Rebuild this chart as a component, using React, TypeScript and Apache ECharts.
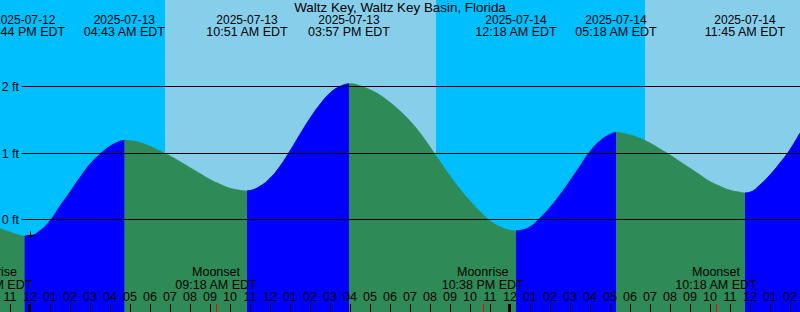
import React, { useEffect, useRef } from 'react';
import * as echarts from 'echarts';

// ---------- data ----------
const TITLE = 'Waltz Key, Waltz Key Basin, Florida';
const TZ = 'EDT';
const BASE_TIME = '2025-07-13 00:00';
const VIEW_START = '2025-07-12 22:30';
const VIEW_END = '2025-07-14 14:30';

// High / low tide events
const extremeTimes = [
  '2025-07-12 23:44',
  '2025-07-13 04:43',
  '2025-07-13 10:51',
  '2025-07-13 15:57',
  '2025-07-14 00:18',
  '2025-07-14 05:18',
  '2025-07-14 11:45',
];
const extremeLevels = [-0.25, 1.19, 0.43, 2.04, -0.17, 1.31, 0.4];

// Tide level (hours since 2025-07-13 00:00, feet)
const sampleHours = [
  -1.5, -1, -0.5, 0, 0.5, 1, 1.5, 2, 2.5, 3, 3.5, 4, 4.5,
  5, 5.5, 6, 6.5, 7, 7.5, 8, 8.5, 9, 9.5, 10, 10.5,
  11, 11.5, 12, 12.5, 13, 13.5, 14, 14.5, 15, 15.5,
  16, 16.5, 17, 17.5, 18, 18.5, 19, 19.5, 20, 20.5, 21, 21.5, 22, 22.5, 23, 23.5, 24,
  24.5, 25, 25.5, 26, 26.5, 27, 27.5, 28, 28.5, 29,
  29.5, 30, 30.5, 31, 31.5, 32, 32.5, 33, 33.5, 34, 34.5, 35, 35.5,
  36, 36.5, 37, 37.5, 38, 38.5,
];
const sampleLevels = [
  -0.14, -0.19, -0.24, -0.245, -0.17, -0.02, 0.2, 0.41, 0.63, 0.83, 0.98, 1.1, 1.175,
  1.185, 1.155, 1.1, 1.03, 0.955, 0.87, 0.78, 0.69, 0.6, 0.53, 0.47, 0.44,
  0.435, 0.5, 0.62, 0.8, 1.03, 1.28, 1.52, 1.73, 1.9, 2.0,
  2.04, 2.01, 1.95, 1.87, 1.76, 1.63, 1.48, 1.3, 1.09, 0.87, 0.655, 0.455, 0.28, 0.12, -0.02, -0.11, -0.16,
  -0.165, -0.11, 0.02, 0.18, 0.37, 0.58, 0.8, 1.02, 1.18, 1.28,
  1.305, 1.27, 1.22, 1.15, 1.06, 0.97, 0.87, 0.77, 0.67, 0.57, 0.5, 0.44, 0.41,
  0.41, 0.52, 0.67, 0.85, 1.05, 1.3,
];

const sunriseTimes = ['2025-07-13 06:45', '2025-07-14 06:45'];
const sunsetTimes = ['2025-07-13 20:18'];

const moonTimes = ['2025-07-12 22:04', '2025-07-13 09:18', '2025-07-13 22:38', '2025-07-14 10:18'];
const moonEvents = ['Moonrise', 'Moonset', 'Moonrise', 'Moonset'];

const levelTicks = [0, 1, 2];
const levelMin = -1.391;
const levelMax = 3.301;
const markerTime = '2025-07-13 00:00';
const markerLevel = -0.24;

// ---------- styles ----------
const NIGHT = '#00BFFF';
const DAY = '#87CEEB';
const RISING = '#0000FF';
const FALLING = '#2E8B57';
const FONT_FAMILY = 'Liberation Sans, Arial, sans-serif';
const FONT = '12.5px ' + FONT_FAMILY;
const DATE_FONT = '12px ' + FONT_FAMILY;

// ---------- helpers ----------
function parseUTC(s: string): number {
  const [d, t] = s.split(' ');
  const [Y, M, D] = d.split('-').map(Number);
  const [hh, mm] = t.split(':').map(Number);
  return Date.UTC(Y, M - 1, D, hh, mm);
}
const baseMs = parseUTC(BASE_TIME);
function toH(s: string): number {
  return (parseUTC(s) - baseMs) / 3600000;
}
function pad2(n: number) {
  return (n < 10 ? '0' : '') + n;
}
function fmtTime(s: string) {
  const [, t] = s.split(' ');
  const [hh, mm] = t.split(':').map(Number);
  const h12 = hh % 12 === 0 ? 12 : hh % 12;
  return pad2(h12) + ':' + pad2(mm) + (hh < 12 ? ' AM ' : ' PM ') + TZ;
}
function fmtDate(s: string) {
  return s.split(' ')[0];
}

const xMin = toH(VIEW_START);
const xMax = toH(VIEW_END);

export default function App() {
  const ref = useRef<HTMLDivElement>(null);

  useEffect(() => {
    document.body.style.margin = '0';
    if (!ref.current) return;
    const chart = echarts.init(ref.current, undefined, { renderer: 'svg' });

    // merged tide points
    const extremeH = extremeTimes.map(toH);
    const pts: number[][] = sampleHours.map((h, i) => [h, sampleLevels[i]]);
    extremeH.forEach((h, i) => pts.push([h, extremeLevels[i]]));
    pts.sort((a, b) => a[0] - b[0]);

    // rising segments (from a low to the next high)
    const risingSegs: number[][][] = [];
    for (let i = 0; i < extremeH.length; i++) {
      const isLow =
        i + 1 < extremeH.length ? extremeLevels[i] < extremeLevels[i + 1] : extremeLevels[i] < extremeLevels[i - 1];
      if (!isLow) continue;
      const s = extremeH[i];
      const e = i + 1 < extremeH.length ? extremeH[i + 1] : xMax;
      risingSegs.push(pts.filter((p) => p[0] >= s && p[0] <= e));
    }

    // day / night intervals
    const sunEv = [
      ...sunriseTimes.map((t) => ({ h: toH(t), day: 1 })),
      ...sunsetTimes.map((t) => ({ h: toH(t), day: 0 })),
    ].sort((a, b) => a.h - b.h);
    const bands: number[][] = [];
    let cur = xMin;
    let curDay = sunEv.length ? 1 - sunEv[0].day : 1;
    sunEv.forEach((ev) => {
      bands.push([cur, ev.h, curDay]);
      cur = ev.h;
      curDay = ev.day;
    });
    bands.push([cur, xMax, curDay]);

    const hourTicks: number[] = [];
    for (let h = Math.ceil(xMin); h <= Math.floor(xMax); h++) hourTicks.push(h);
    const midnights = hourTicks.filter((h) => ((h % 24) + 24) % 24 === 0);

    const gridStartH = xMin + 21.5 / 20;

    const series: any[] = [
      {
        type: 'custom',
        z: 0,
        silent: true,
        data: bands,
        renderItem: (params: any, api: any) => {
          const p1 = api.coord([api.value(0), levelMax]);
          const p2 = api.coord([api.value(1), levelMin]);
          return {
            type: 'rect',
            shape: { x: p1[0], y: p1[1], width: p2[0] - p1[0], height: p2[1] - p1[1] },
            style: { fill: api.value(2) ? DAY : NIGHT },
          };
        },
      },
      {
        type: 'line',
        z: 1,
        silent: true,
        data: pts,
        smooth: 0.5,
        symbol: 'none',
        lineStyle: { width: 0.8, color: FALLING },
        areaStyle: { color: FALLING, opacity: 1, origin: 'start' },
      },
      ...risingSegs.map((seg) => ({
        type: 'line',
        z: 2,
        silent: true,
        data: seg,
        smooth: 0.5,
        symbol: 'none',
        lineStyle: { width: 0.8, color: RISING },
        areaStyle: { color: RISING, opacity: 1, origin: 'start' },
      })),
      {
        type: 'custom',
        z: 5,
        silent: true,
        data: levelTicks.map((v) => [gridStartH, v]),
        renderItem: (params: any, api: any) => {
          const p = api.coord([api.value(0), api.value(1)]);
          const pe = api.coord([xMax, api.value(1)]);
          const y = Math.round(p[1] - 0.5) + 0.5;
          return {
            type: 'group',
            children: [
              {
                type: 'line',
                shape: { x1: p[0], y1: y, x2: pe[0], y2: y },
                style: { stroke: '#000', lineWidth: 1 },
              },
              {
                type: 'text',
                x: p[0] - 2.5,
                y: y,
                style: {
                  text: api.value(1) + ' ft',
                  fill: '#000',
                  font: FONT,
                  align: 'right',
                  verticalAlign: 'middle',
                },
              },
            ],
          };
        },
      },
      {
        type: 'custom',
        z: 6,
        silent: true,
        data: extremeTimes.map((t, i) => [toH(t), extremeLevels[i]]),
        renderItem: (params: any, api: any) => {
          const p = api.coord([api.value(0), 0]);
          const t = extremeTimes[params.dataIndex];
          return {
            type: 'group',
            children: [
              {
                type: 'text',
                x: p[0],
                y: 19.8,
                style: { text: fmtDate(t), fill: '#000', font: DATE_FONT, align: 'center', verticalAlign: 'middle' },
              },
              {
                type: 'text',
                x: p[0],
                y: 31.6,
                style: { text: fmtTime(t), fill: '#000', font: FONT, align: 'center', verticalAlign: 'middle' },
              },
            ],
          };
        },
      },
      {
        type: 'custom',
        z: 6,
        silent: true,
        data: moonTimes.map((t) => [toH(t), 0]),
        renderItem: (params: any, api: any) => {
          const p = api.coord([api.value(0), levelMin]);
          const t = moonTimes[params.dataIndex];
          const x = Math.round(p[0]) + 0.5;
          return {
            type: 'group',
            children: [
              {
                type: 'text',
                x: p[0],
                y: 272.3,
                style: { text: moonEvents[params.dataIndex], fill: '#000', font: FONT, align: 'center', verticalAlign: 'middle' },
              },
              {
                type: 'text',
                x: p[0],
                y: 284.7,
                style: { text: fmtTime(t), fill: '#000', font: FONT, align: 'center', verticalAlign: 'middle' },
              },
              {
                type: 'line',
                shape: { x1: x, y1: p[1] - 8, x2: x, y2: p[1] },
                style: { stroke: '#FF0000', lineWidth: 1 },
              },
            ],
          };
        },
      },
      {
        type: 'custom',
        z: 7,
        silent: true,
        data: midnights.map((h) => [h, levelMin]),
        renderItem: (params: any, api: any) => {
          const p = api.coord([api.value(0), api.value(1)]);
          return {
            type: 'rect',
            shape: { x: Math.round(p[0]) - 2, y: p[1] - 8, width: 3, height: 8 },
            style: { fill: '#000' },
          };
        },
      },
      {
        type: 'custom',
        z: 7,
        silent: true,
        data: [[toH(markerTime), markerLevel]],
        renderItem: (params: any, api: any) => {
          const p = api.coord([api.value(0), api.value(1)]);
          const x = Math.round(p[0]) + 0.5;
          const y = Math.round(p[1]) + 0.5;
          return {
            type: 'group',
            children: [
              { type: 'line', shape: { x1: x - 4, y1: y, x2: x + 4, y2: y }, style: { stroke: '#000', lineWidth: 1 } },
              { type: 'line', shape: { x1: x, y1: y - 4, x2: x, y2: y + 4 }, style: { stroke: '#000', lineWidth: 1 } },
            ],
          };
        },
      },
    ];

    chart.setOption({
      animation: false,
      backgroundColor: NIGHT,
      title: {
        text: TITLE,
        left: 'center',
        top: 0,
        padding: [1, 0, 0, 0],
        textStyle: { fontSize: 13.4, fontWeight: 'normal', fontFamily: FONT_FAMILY, color: '#000' },
      },
      grid: { left: 0, right: 0, top: 0, bottom: 0, containLabel: false },
      xAxis: {
        type: 'value',
        min: xMin,
        max: xMax,
        z: 10,
        position: 'bottom',
        axisLine: { show: false, onZero: false },
        splitLine: { show: false },
        axisTick: {
          show: true,
          inside: true,
          length: 8,
          customValues: hourTicks,
          lineStyle: { color: '#000', width: 1 },
        },
        axisLabel: {
          show: true,
          inside: true,
          margin: 9,
          customValues: hourTicks,
          color: '#000',
          fontSize: 12.5,
          fontFamily: FONT_FAMILY,
          formatter: (v: number) => {
            const hod = ((Math.round(v) % 24) + 24) % 24;
            return pad2(hod % 12 === 0 ? 12 : hod % 12);
          },
        },
      },
      yAxis: {
        type: 'value',
        min: levelMin,
        max: levelMax,
        show: false,
        splitLine: { show: false },
      },
      series,
    });

    return () => chart.dispose();
  }, []);

  return <div ref={ref} style={{ width: 800, height: 312 }} />;
}
